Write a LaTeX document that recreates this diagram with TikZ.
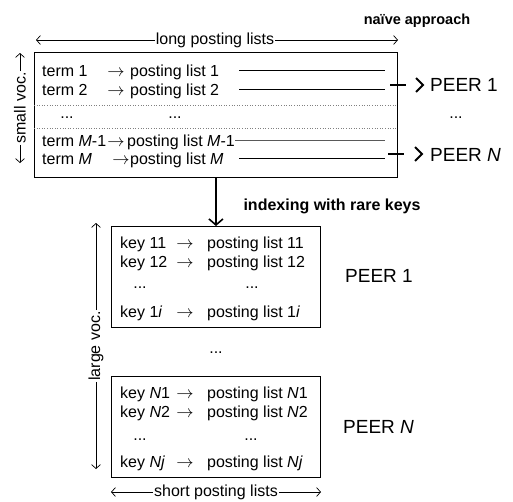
\documentclass[tikz,border=0pt]{standalone}
\usepackage{fontspec}
\setmainfont{Liberation Sans}
\usetikzlibrary{arrows.meta}
\tikzset{
  rowtxt/.style={font=\fontsize{16}{19}\selectfont, inner sep=0pt, anchor=base west},
  rowarr/.style={font=\fontsize{16}{19}\selectfont, inner sep=0pt, anchor=base},
  dots/.style={font=\fontsize{16}{19}\selectfont, inner sep=0pt, anchor=base},
  peer/.style={font=\fontsize{19}{22}\selectfont, inner sep=0pt, anchor=base west},
  box/.style={draw, line width=0.9pt, inner sep=0pt, anchor=north west},
  dimtxt/.style={font=\fontsize{16}{19}\selectfont, inner sep=1pt},
  dimarr/.style={line width=0.7pt, -{Straight Barb[length=4pt,width=9pt]}},
  rowline/.style={line width=0.8pt},
  sepline/.style={gray, line width=0.6pt, dotted},
  mainarrow/.style={line width=1.6pt, -{Straight Barb[length=6pt,width=14pt,line width=1.6pt]}},
  fat/.style={line width=2pt},
}
\begin{document}
\begin{tikzpicture}[x=1pt,y=-1pt]
\useasboundingbox (0,0) rectangle (513,501);

% titles
\node[font=\bfseries\fontsize{14.5}{17}\selectfont, inner sep=0pt, anchor=base] (naive) at (417,24) {naïve approach};
\node[font=\bfseries\fontsize{16}{19}\selectfont, inner sep=0pt, anchor=base] (idx) at (332,210) {indexing with rare keys};

% top box
\node[box, minimum width=363pt, minimum height=125pt] (top) at (34,52) {};
\draw[sepline] (top.west |- 0,105) -- (top.east |- 0,105);
\draw[sepline] (top.west |- 0,128) -- (top.east |- 0,128);

\node[rowtxt] (t1) at (42,76) {term 1};
\node[rowarr] (a1) at (116,76) {$\rightarrow$};
\node[rowtxt] (l1) at (130,76) {posting list 1};
\node[rowtxt] (t2) at (42,95) {term 2};
\node[rowarr] (a2) at (116,95) {$\rightarrow$};
\node[rowtxt] (l2) at (130,95) {posting list 2};
\node[dots] (d1) at (67,118) {...};
\node[dots] (d2) at (175,118) {...};
\node[rowtxt] (t3) at (42,146) {term \textit{M}-1};
\node[rowarr] (a3) at (116,146) {$\rightarrow$};
\node[rowtxt] (l3) at (127,146) {posting list \textit{M}-1};
\node[rowtxt] (t4) at (42,164) {term \textit{M}};
\node[rowarr] (a4) at (121,164) {$\rightarrow$};
\node[rowtxt] (l4) at (130,164) {posting list \textit{M}};

\coordinate (r1a) at (239,70); \coordinate (r1b) at (385,70);
\coordinate (r2a) at (239,89); \coordinate (r2b) at (385,89);
\coordinate (r3a) at (l3.east |- 0,140); \coordinate (r3b) at (385,140);
\coordinate (r4a) at (239,158); \coordinate (r4b) at (385,158);
\draw[rowline] (r1a) -- (r1b);
\draw[rowline] (r2a) -- (r2b);
\draw[rowline, gray!70!black] (r3a) -- (r3b);
\draw[rowline] (r4a) -- (r4b);

% right side peers
\coordinate (k1a) at (390,85); \coordinate (k1b) at (406,85);
\draw[fat] (k1a) -- (k1b);
\draw[fat, line join=miter] (416,78) -- (423,85) -- (416,92);
\node[peer] (peer1top) at (430,91) {PEER 1};
\node[dots] (d3) at (456,118) {...};
\coordinate (k2a) at (388,154); \coordinate (k2b) at (404,154);
\draw[fat] (k2a) -- (k2b);
\draw[fat, line join=miter] (415,147) -- (422,154) -- (415,161);
\node[peer] (peerNtop) at (430,161) {PEER \textit{N}};

% long posting lists
\node[dimtxt] (lp) at (215,40) {long posting lists};
\coordinate (lpL) at (36,40); \coordinate (lpR) at (398,40);
\draw[dimarr] (lp.west) -- (lpL);
\draw[dimarr] (lp.east) -- (lpR);

% small voc
\node[dimtxt, rotate=90] (sv) at (20,108) {small voc.};
\coordinate (svT) at (20,53); \coordinate (svB) at (20,163);
\draw[dimarr] (sv.east) -- (svT);
\draw[dimarr] (sv.west) -- (svB);

% peer boxes
\node[box, minimum width=209pt, minimum height=101pt] (p1) at (111,226) {};
\node[box, minimum width=209pt, minimum height=101pt] (pN) at (111,376) {};

\draw[mainarrow] (top.south) -- (p1.north);

\node[rowtxt] (k11) at (120,248) {key 11};
\node[rowarr] (ka11) at (185,248) {$\rightarrow$};
\node[rowtxt] (kl11) at (207,248) {posting list 11};
\node[rowtxt] (k12) at (120,267) {key 12};
\node[rowarr] (ka12) at (185,267) {$\rightarrow$};
\node[rowtxt] (kl12) at (207,267) {posting list 12};
\node[dots] (kd1) at (140,288) {...};
\node[dots] (kd2) at (252,288) {...};
\node[rowtxt] (k1i) at (120,317) {key 1\textit{i}};
\node[rowarr] (ka1i) at (185,317) {$\rightarrow$};
\node[rowtxt] (kl1i) at (207,317) {posting list 1\textit{i}};
\node[peer] (peer1) at (345,282) {PEER 1};

\node[dots] (md) at (216,353) {...};

\node[rowtxt] (kN1) at (120,398) {key \textit{N}1};
\node[rowarr] (kaN1) at (185,398) {$\rightarrow$};
\node[rowtxt] (klN1) at (207,398) {posting list \textit{N}1};
\node[rowtxt] (kN2) at (120,417) {key \textit{N}2};
\node[rowarr] (kaN2) at (185,417) {$\rightarrow$};
\node[rowtxt] (klN2) at (207,417) {posting list \textit{N}2};
\node[dots] (kd3) at (140,440) {...};
\node[dots] (kd4) at (251,440) {...};
\node[rowtxt] (kNj) at (120,467) {key \textit{Nj}};
\node[rowarr] (kaNj) at (185,467) {$\rightarrow$};
\node[rowtxt] (klNj) at (207,467) {posting list \textit{Nj}};
\node[peer] (peerN) at (343,433) {PEER \textit{N}};

% large voc
\node[dimtxt, rotate=90] (lv) at (96,346) {large voc.};
\coordinate (lvT) at (96,223); \coordinate (lvB) at (96,469);
\draw[dimarr] (lv.east) -- (lvT);
\draw[dimarr] (lv.west) -- (lvB);

% short posting lists
\node[dimtxt] (sp) at (216,492) {short posting lists};
\coordinate (spL) at (111,492); \coordinate (spR) at (321,492);
\draw[dimarr] (sp.west) -- (spL);
\draw[dimarr] (sp.east) -- (spR);
\end{tikzpicture}
\end{document}
